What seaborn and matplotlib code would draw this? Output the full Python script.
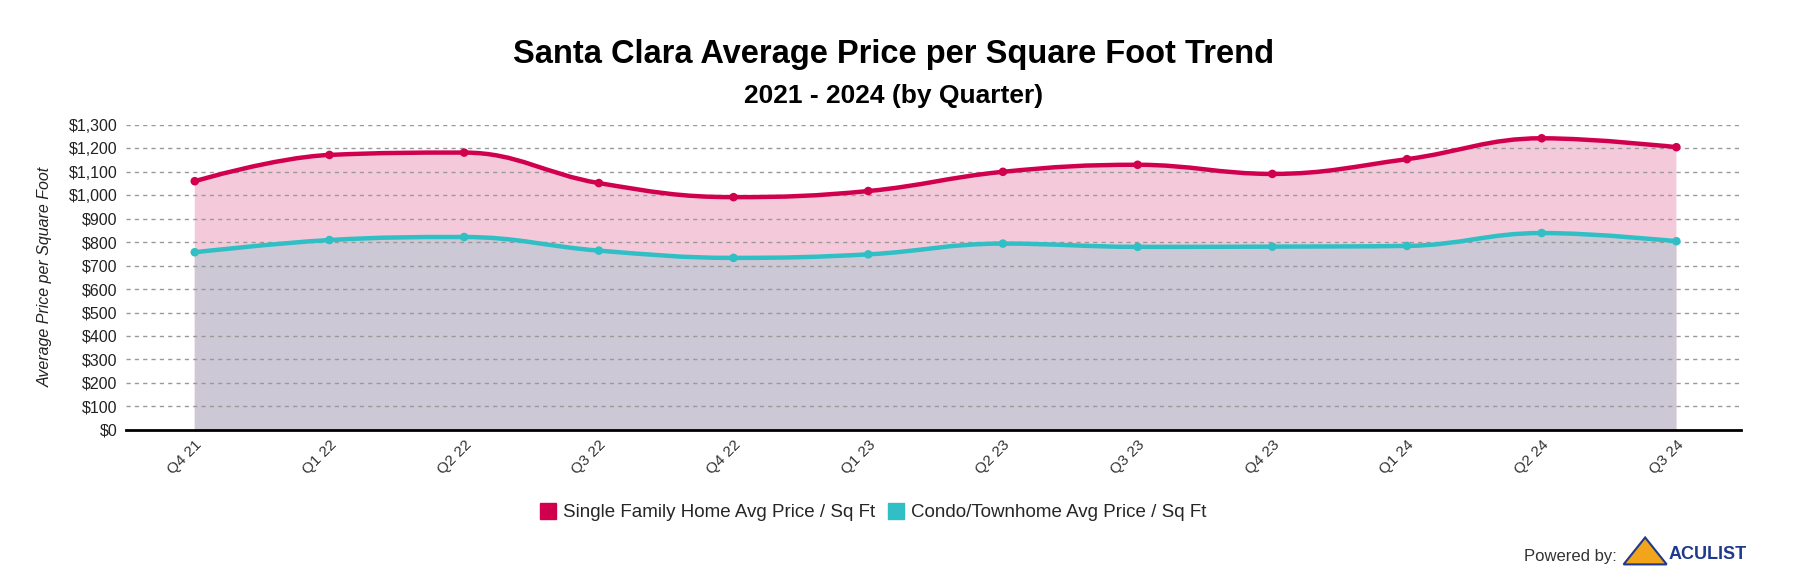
import numpy as np
import pandas as pd
import matplotlib
matplotlib.use("Agg")
import matplotlib.pyplot as plt
import seaborn as sns
from matplotlib.path import Path
from matplotlib.patches import PathPatch, Polygon
from matplotlib.lines import Line2D

# data
quarters = ["Q4 21", "Q1 22", "Q2 22", "Q3 22", "Q4 22", "Q1 23",
            "Q2 23", "Q3 23", "Q4 23", "Q1 24", "Q2 24", "Q3 24"]
single_family = [1060, 1172, 1182, 1052, 992, 1018, 1100, 1130, 1091, 1154, 1243, 1205]
condo = [757, 809, 822, 764, 733, 748, 794, 780, 781, 784, 839, 804]
y_ticks = list(range(0, 1301, 100))

SF_COLOR = "#D1004F"
CONDO_COLOR = "#2FBFC5"
SF_FILL = "#F4CADA"
CONDO_FILL = "#CCC8D6"

df = pd.DataFrame({
    "x": list(range(len(quarters))) * 2,
    "price": single_family + condo,
    "series": ["Single Family Home Avg Price / Sq Ft"] * len(quarters)
              + ["Condo/Townhome Avg Price / Sq Ft"] * len(quarters),
})


def spline_path(xs, ys, smoothing=1.5):
    # bezier control points the way a Highcharts spline builds them
    n = len(xs)
    left = [(xs[i], ys[i]) for i in range(n)]
    right = [(xs[i], ys[i]) for i in range(n)]
    denom = smoothing + 1
    for i in range(1, n - 1):
        lx = (smoothing * xs[i] + xs[i - 1]) / denom
        ly = (smoothing * ys[i] + ys[i - 1]) / denom
        rx = (smoothing * xs[i] + xs[i + 1]) / denom
        ry = (smoothing * ys[i] + ys[i + 1]) / denom
        corr = ((ry - ly) * (rx - xs[i])) / (rx - lx) + ys[i] - ry
        ly += corr
        ry += corr
        if ly > ys[i - 1] and ly > ys[i]:
            ly = max(ys[i - 1], ys[i]); ry = 2 * ys[i] - ly
        elif ly < ys[i - 1] and ly < ys[i]:
            ly = min(ys[i - 1], ys[i]); ry = 2 * ys[i] - ly
        if ry > ys[i + 1] and ry > ys[i]:
            ry = max(ys[i + 1], ys[i]); ly = 2 * ys[i] - ry
        elif ry < ys[i + 1] and ry < ys[i]:
            ry = min(ys[i + 1], ys[i]); ly = 2 * ys[i] - ry
        left[i] = (lx, ly)
        right[i] = (rx, ry)
    verts = [(xs[0], ys[0])]
    codes = [Path.MOVETO]
    for i in range(1, n):
        verts += [right[i - 1], left[i], (xs[i], ys[i])]
        codes += [Path.CURVE4] * 3
    return verts, codes


sns.set_style("white")
plt.rcParams["font.family"] = ["Liberation Sans", "DejaVu Sans"]

fig = plt.figure(figsize=(17.96, 5.73), dpi=100)
ax = fig.add_axes([0.0702, 0.25, 0.8992, 0.532])

xs = list(range(len(quarters)))
for vals, line_c, fill_c in [(single_family, SF_COLOR, SF_FILL),
                             (condo, CONDO_COLOR, CONDO_FILL)]:
    verts, codes = spline_path(xs, vals)
    area = verts + [(xs[-1], 0), (xs[0], 0), verts[0]]
    area_codes = codes + [Path.LINETO, Path.LINETO, Path.CLOSEPOLY]
    ax.add_patch(PathPatch(Path(area, area_codes), facecolor=fill_c,
                           edgecolor="none", zorder=1))
    ax.add_patch(PathPatch(Path(verts, codes), facecolor="none",
                           edgecolor=line_c, lw=3.2, zorder=3,
                           capstyle="round", joinstyle="round"))

sns.scatterplot(data=df, x="x", y="price", hue="series",
                palette=[SF_COLOR, CONDO_COLOR], s=38, edgecolor="none",
                legend=False, ax=ax, zorder=4)

ax.set_xlim(-0.51, 11.48)
ax.set_ylim(0, 1300)
ax.set_yticks(y_ticks)
ax.set_yticklabels([f"${v:,}" for v in y_ticks], fontsize=11.5, color="#222222")
ax.set_xticks(xs)
ax.set_xticklabels(quarters, rotation=45, ha="right", va="top",
                   rotation_mode="anchor", fontsize=11, color="#333333")
ax.tick_params(axis="x", length=0, pad=6)
ax.tick_params(axis="y", length=0, pad=6)
for y in y_ticks[1:]:
    ax.axhline(y, color="#999999", lw=1, ls=(0, (3, 3)), zorder=2)
for s in ["top", "right", "left"]:
    ax.spines[s].set_visible(False)
ax.spines["bottom"].set_color("#000000")
ax.spines["bottom"].set_linewidth(2)
ax.spines["bottom"].set_zorder(5)
ax.set_xlabel("")
ax.set_ylabel("Average Price per Square Foot", fontsize=11.5, style="italic",
              color="#222222", labelpad=12)

fig.text(0.4975, 0.905, "Santa Clara Average Price per Square Foot Trend",
         ha="center", va="center", fontsize=23.5, fontweight="bold",
         color="#000000")
fig.text(0.4975, 0.832, "2021 - 2024 (by Quarter)",
         ha="center", va="center", fontsize=19, fontweight="bold",
         color="#000000")

handles = [Line2D([], [], marker="s", ls="none", markersize=11, color=SF_COLOR),
           Line2D([], [], marker="s", ls="none", markersize=11, color=CONDO_COLOR)]
fig.legend(handles, ["Single Family Home Avg Price / Sq Ft",
                     "Condo/Townhome Avg Price / Sq Ft"],
           loc="center", bbox_to_anchor=(0.486, 0.105), ncol=2, frameon=False,
           fontsize=13.5, handletextpad=0.3, columnspacing=0.6, handlelength=1)

fig.text(0.9, 0.028, "Powered by:", ha="right", va="center", fontsize=12,
         color="#333333")
fig.patches.append(Polygon([(0.904, 0.015), (0.916, 0.062), (0.928, 0.015)],
                           closed=True, transform=fig.transFigure,
                           facecolor="#F2A51A", edgecolor="#1F3A8A", lw=1.5))
fig.text(0.929, 0.032, "ACULIST", ha="left", va="center", fontsize=13,
         fontweight="bold", color="#1F3A8A")

fig.savefig("out.png", dpi=100)
